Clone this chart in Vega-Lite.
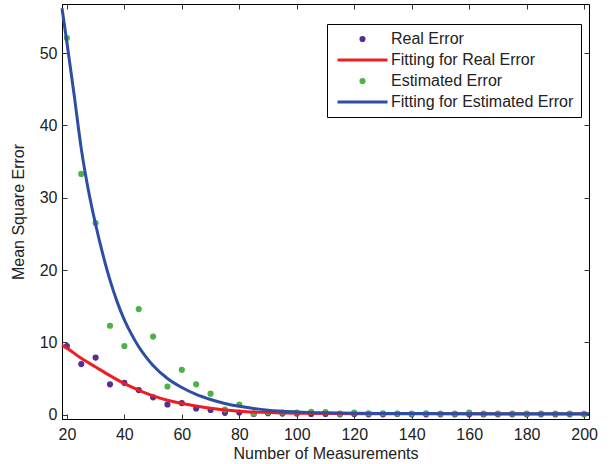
{
  "$schema": "https://vega.github.io/schema/vega-lite/v6.json",
  "width": 527,
  "height": 415,
  "autosize": {"type": "none"},
  "padding": {"left": 62, "top": 4, "right": 24, "bottom": 45},
  "background": "white",
  "config": {
    "view": {"stroke": "black", "strokeWidth": 1},
    "font": "Liberation Sans",
    "axis": {
      "grid": false,
      "domainColor": "black",
      "tickColor": "#333333",
      "labelColor": "#222222",
      "titleColor": "#222222",
      "labelFont": "Liberation Sans",
      "titleFont": "Liberation Sans",
      "labelFontSize": 16,
      "titleFontSize": 16,
      "titleFontWeight": "normal",
      "tickSize": -5,
      "labelPadding": 12
    }
  },
  "datasets": {
    "pts": [
      {"x": 20, "y": 9.5, "series": "Real Error"},
      {"x": 25, "y": 7.0, "series": "Real Error"},
      {"x": 30, "y": 7.9, "series": "Real Error"},
      {"x": 35, "y": 4.2, "series": "Real Error"},
      {"x": 40, "y": 4.4, "series": "Real Error"},
      {"x": 45, "y": 3.4, "series": "Real Error"},
      {"x": 50, "y": 2.4, "series": "Real Error"},
      {"x": 55, "y": 1.4, "series": "Real Error"},
      {"x": 60, "y": 1.6, "series": "Real Error"},
      {"x": 65, "y": 0.85, "series": "Real Error"},
      {"x": 70, "y": 0.65, "series": "Real Error"},
      {"x": 75, "y": 0.25, "series": "Real Error"},
      {"x": 80, "y": 0.3, "series": "Real Error"},
      {"x": 85, "y": 0.1, "series": "Real Error"},
      {"x": 90, "y": 0.2, "series": "Real Error"},
      {"x": 95, "y": 0.15, "series": "Real Error"},
      {"x": 100, "y": 0.15, "series": "Real Error"},
      {"x": 105, "y": 0.1, "series": "Real Error"},
      {"x": 110, "y": 0.1, "series": "Real Error"},
      {"x": 115, "y": 0.05, "series": "Real Error"},
      {"x": 120, "y": 0.1, "series": "Real Error"},
      {"x": 125, "y": 0.05, "series": "Real Error"},
      {"x": 130, "y": 0.05, "series": "Real Error"},
      {"x": 135, "y": 0.1, "series": "Real Error"},
      {"x": 140, "y": 0.05, "series": "Real Error"},
      {"x": 145, "y": 0.05, "series": "Real Error"},
      {"x": 150, "y": 0.05, "series": "Real Error"},
      {"x": 155, "y": 0.05, "series": "Real Error"},
      {"x": 160, "y": 0.05, "series": "Real Error"},
      {"x": 165, "y": 0.05, "series": "Real Error"},
      {"x": 170, "y": 0.05, "series": "Real Error"},
      {"x": 175, "y": 0.05, "series": "Real Error"},
      {"x": 180, "y": 0.05, "series": "Real Error"},
      {"x": 185, "y": 0.05, "series": "Real Error"},
      {"x": 190, "y": 0.05, "series": "Real Error"},
      {"x": 195, "y": 0.05, "series": "Real Error"},
      {"x": 200, "y": 0.05, "series": "Real Error"},
      {"x": 20, "y": 52.1, "series": "Estimated Error"},
      {"x": 25, "y": 33.3, "series": "Estimated Error"},
      {"x": 30, "y": 26.5, "series": "Estimated Error"},
      {"x": 35, "y": 12.3, "series": "Estimated Error"},
      {"x": 40, "y": 9.5, "series": "Estimated Error"},
      {"x": 45, "y": 14.6, "series": "Estimated Error"},
      {"x": 50, "y": 10.8, "series": "Estimated Error"},
      {"x": 55, "y": 3.9, "series": "Estimated Error"},
      {"x": 60, "y": 6.2, "series": "Estimated Error"},
      {"x": 65, "y": 4.2, "series": "Estimated Error"},
      {"x": 70, "y": 2.9, "series": "Estimated Error"},
      {"x": 75, "y": 0.7, "series": "Estimated Error"},
      {"x": 80, "y": 1.4, "series": "Estimated Error"},
      {"x": 85, "y": 0.15, "series": "Estimated Error"},
      {"x": 90, "y": 0.35, "series": "Estimated Error"},
      {"x": 95, "y": 0.3, "series": "Estimated Error"},
      {"x": 100, "y": 0.3, "series": "Estimated Error"},
      {"x": 105, "y": 0.4, "series": "Estimated Error"},
      {"x": 110, "y": 0.35, "series": "Estimated Error"},
      {"x": 115, "y": 0.15, "series": "Estimated Error"},
      {"x": 120, "y": 0.3, "series": "Estimated Error"},
      {"x": 125, "y": 0.2, "series": "Estimated Error"},
      {"x": 130, "y": 0.2, "series": "Estimated Error"},
      {"x": 135, "y": 0.15, "series": "Estimated Error"},
      {"x": 140, "y": 0.15, "series": "Estimated Error"},
      {"x": 145, "y": 0.2, "series": "Estimated Error"},
      {"x": 150, "y": 0.15, "series": "Estimated Error"},
      {"x": 155, "y": 0.15, "series": "Estimated Error"},
      {"x": 160, "y": 0.3, "series": "Estimated Error"},
      {"x": 165, "y": 0.15, "series": "Estimated Error"},
      {"x": 170, "y": 0.15, "series": "Estimated Error"},
      {"x": 175, "y": 0.15, "series": "Estimated Error"},
      {"x": 180, "y": 0.15, "series": "Estimated Error"},
      {"x": 185, "y": 0.15, "series": "Estimated Error"},
      {"x": 190, "y": 0.15, "series": "Estimated Error"},
      {"x": 195, "y": 0.15, "series": "Estimated Error"},
      {"x": 200, "y": 0.1, "series": "Estimated Error"}
    ],
    "fits": [
      {"x": 18.3, "y": 9.6, "series": "Fitting for Real Error"},
      {"x": 20, "y": 9.2, "series": "Fitting for Real Error"},
      {"x": 25, "y": 7.8, "series": "Fitting for Real Error"},
      {"x": 30, "y": 6.6, "series": "Fitting for Real Error"},
      {"x": 35, "y": 5.4, "series": "Fitting for Real Error"},
      {"x": 40, "y": 4.3, "series": "Fitting for Real Error"},
      {"x": 45, "y": 3.4, "series": "Fitting for Real Error"},
      {"x": 50, "y": 2.6, "series": "Fitting for Real Error"},
      {"x": 55, "y": 2.0, "series": "Fitting for Real Error"},
      {"x": 60, "y": 1.55, "series": "Fitting for Real Error"},
      {"x": 65, "y": 1.2, "series": "Fitting for Real Error"},
      {"x": 70, "y": 0.9, "series": "Fitting for Real Error"},
      {"x": 75, "y": 0.65, "series": "Fitting for Real Error"},
      {"x": 80, "y": 0.48, "series": "Fitting for Real Error"},
      {"x": 90, "y": 0.3, "series": "Fitting for Real Error"},
      {"x": 100, "y": 0.2, "series": "Fitting for Real Error"},
      {"x": 120, "y": 0.14, "series": "Fitting for Real Error"},
      {"x": 150, "y": 0.11, "series": "Fitting for Real Error"},
      {"x": 201.7, "y": 0.1, "series": "Fitting for Real Error"},
      {"x": 18.3, "y": 56.2, "series": "Fitting for Estimated Error"},
      {"x": 20, "y": 51.5, "series": "Fitting for Estimated Error"},
      {"x": 22.5, "y": 44.3, "series": "Fitting for Estimated Error"},
      {"x": 25, "y": 36.8, "series": "Fitting for Estimated Error"},
      {"x": 27.5, "y": 31.0, "series": "Fitting for Estimated Error"},
      {"x": 30, "y": 26.3, "series": "Fitting for Estimated Error"},
      {"x": 32.5, "y": 22.2, "series": "Fitting for Estimated Error"},
      {"x": 35, "y": 18.6, "series": "Fitting for Estimated Error"},
      {"x": 37.5, "y": 15.6, "series": "Fitting for Estimated Error"},
      {"x": 40, "y": 13.1, "series": "Fitting for Estimated Error"},
      {"x": 42.5, "y": 11.1, "series": "Fitting for Estimated Error"},
      {"x": 45, "y": 9.4, "series": "Fitting for Estimated Error"},
      {"x": 47.5, "y": 8.0, "series": "Fitting for Estimated Error"},
      {"x": 50, "y": 6.8, "series": "Fitting for Estimated Error"},
      {"x": 55, "y": 5.0, "series": "Fitting for Estimated Error"},
      {"x": 60, "y": 3.75, "series": "Fitting for Estimated Error"},
      {"x": 65, "y": 2.8, "series": "Fitting for Estimated Error"},
      {"x": 70, "y": 2.1, "series": "Fitting for Estimated Error"},
      {"x": 75, "y": 1.55, "series": "Fitting for Estimated Error"},
      {"x": 80, "y": 1.15, "series": "Fitting for Estimated Error"},
      {"x": 85, "y": 0.85, "series": "Fitting for Estimated Error"},
      {"x": 90, "y": 0.62, "series": "Fitting for Estimated Error"},
      {"x": 100, "y": 0.38, "series": "Fitting for Estimated Error"},
      {"x": 110, "y": 0.26, "series": "Fitting for Estimated Error"},
      {"x": 120, "y": 0.2, "series": "Fitting for Estimated Error"},
      {"x": 140, "y": 0.16, "series": "Fitting for Estimated Error"},
      {"x": 201.7, "y": 0.13, "series": "Fitting for Estimated Error"}
    ]
  },
  "layer": [
    {
      "data": {"name": "pts"},
      "mark": {"type": "point", "filled": true, "opacity": 1},
      "encoding": {
        "x": {
          "field": "x", "type": "quantitative",
          "scale": {"domain": [18.3, 201.7], "nice": false, "zero": false},
          "axis": {"orient": "bottom", "values": [20, 40, 60, 80, 100, 120, 140, 160, 180, 200], "title": "Number of Measurements", "titlePadding": 3}
        },
        "y": {
          "field": "y", "type": "quantitative",
          "scale": {"domain": [-0.6, 56.8], "nice": false, "zero": false},
          "axis": {"orient": "left", "values": [0, 10, 20, 30, 40, 50], "title": "Mean Square Error", "labelPadding": 10, "titlePadding": 13}
        },
        "color": {
          "field": "series", "type": "nominal",
          "scale": {
            "domain": ["Real Error", "Fitting for Real Error", "Estimated Error", "Fitting for Estimated Error"],
            "range": ["#542E91", "#EE1D23", "#4DB147", "#2D4EA2"]
          },
          "legend": {
            "title": null,
            "orient": "none",
            "legendX": 265,
            "legendY": 20,
            "strokeColor": "black",
            "fillColor": "white",
            "padding": 7,
            "labelFontSize": 16,
            "labelColor": "#222222",
            "labelFont": "Liberation Sans",
            "labelLimit": 400,
            "labelOffset": 2,
            "symbolOffset": 2,
            "clipHeight": 16,
            "rowPadding": 5,
            "symbolOpacity": 1
          }
        },
        "stroke": {
          "field": "series", "type": "nominal",
          "scale": {
            "domain": ["Real Error", "Fitting for Real Error", "Estimated Error", "Fitting for Estimated Error"],
            "range": ["#542E91", "#EE1D23", "#4DB147", "#2D4EA2"]
          },
          "legend": {"title": null}
        },
        "shape": {
          "field": "series", "type": "nominal",
          "scale": {
            "domain": ["Real Error", "Fitting for Real Error", "Estimated Error", "Fitting for Estimated Error"],
            "range": ["circle", "stroke", "circle", "stroke"]
          },
          "legend": {"title": null}
        },
        "size": {
          "field": "series", "type": "nominal",
          "scale": {
            "type": "ordinal",
            "domain": ["Real Error", "Fitting for Real Error", "Estimated Error", "Fitting for Estimated Error"],
            "range": [38, 2500, 38, 2500]
          },
          "legend": {"title": null}
        },
        "strokeWidth": {
          "field": "series", "type": "nominal",
          "scale": {
            "type": "ordinal",
            "domain": ["Real Error", "Fitting for Real Error", "Estimated Error", "Fitting for Estimated Error"],
            "range": [0, 3, 0, 3]
          },
          "legend": {"title": null}
        }
      }
    },
    {
      "data": {"name": "fits"},
      "mark": {"type": "line", "strokeWidth": 3, "interpolate": "monotone"},
      "encoding": {
        "x": {
          "field": "x", "type": "quantitative",
          "axis": {"orient": "top", "values": [20, 40, 60, 80, 100, 120, 140, 160, 180, 200], "labels": false, "domain": false, "title": null}
        },
        "y": {
          "field": "y", "type": "quantitative",
          "axis": {"orient": "right", "values": [0, 10, 20, 30, 40, 50], "labels": false, "domain": false, "title": null}
        },
        "color": {"field": "series", "type": "nominal", "legend": null},
        "order": {"field": "x", "type": "quantitative"}
      }
    }
  ],
  "resolve": {"axis": {"x": "independent", "y": "independent"}}
}
